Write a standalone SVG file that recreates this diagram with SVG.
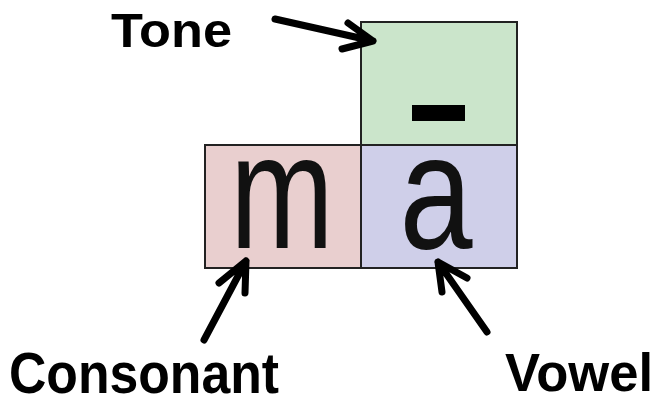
<svg xmlns="http://www.w3.org/2000/svg" width="658" height="405" viewBox="0 0 658 405">
  <style>
    .box { stroke: #222; stroke-width: 2; }
    .lbl { font-family: "Liberation Sans", Arial, sans-serif; font-weight: bold; fill: #000; }
    .glyph { font-family: "Liberation Sans", Arial, sans-serif; fill: #111; }
    .arrow { fill: none; stroke: #000; stroke-width: 7; stroke-linecap: round; stroke-linejoin: round; }
  </style>
  <rect x="0" y="0" width="658" height="405" fill="#fff"/>
  <g id="tone-box">
    <rect class="box" x="361" y="22" width="156" height="123" fill="#cbe5cb"/>
    <rect x="412" y="105" width="53" height="16" fill="#000"/>
  </g>
  <g id="consonant-box">
    <rect class="box" x="205" y="145" width="156" height="123" fill="#e9cfcf"/>
    <text class="glyph" transform="translate(282,248) scale(0.76,1)" x="0" y="0" font-size="164" text-anchor="middle">m</text>
  </g>
  <g id="vowel-box">
    <rect class="box" x="361" y="145" width="156" height="123" fill="#cfcfe9"/>
    <text class="glyph" transform="translate(436,248) scale(0.8,1)" x="0" y="0" font-size="164" text-anchor="middle">a</text>
  </g>
  <g id="tone-label">
    <text class="lbl" x="111" y="47" font-size="49" textLength="121" lengthAdjust="spacingAndGlyphs">Tone</text>
  </g>
  <g id="consonant-label">
    <text class="lbl" x="9" y="393" font-size="58" textLength="270" lengthAdjust="spacingAndGlyphs">Consonant</text>
  </g>
  <g id="vowel-label">
    <text class="lbl" x="505" y="391" font-size="53" textLength="148" lengthAdjust="spacingAndGlyphs">Vowel</text>
  </g>
  <g id="connectors">
    <path class="arrow" d="M275 19 L373 41 M348 23 L373 41 L342 49"/>
    <path class="arrow" d="M204 340 L246 261 M219 283 L246 261 L245 293"/>
    <path class="arrow" d="M487 332 L438 262 M442 292 L438 262 L467 278"/>
  </g>
</svg>
